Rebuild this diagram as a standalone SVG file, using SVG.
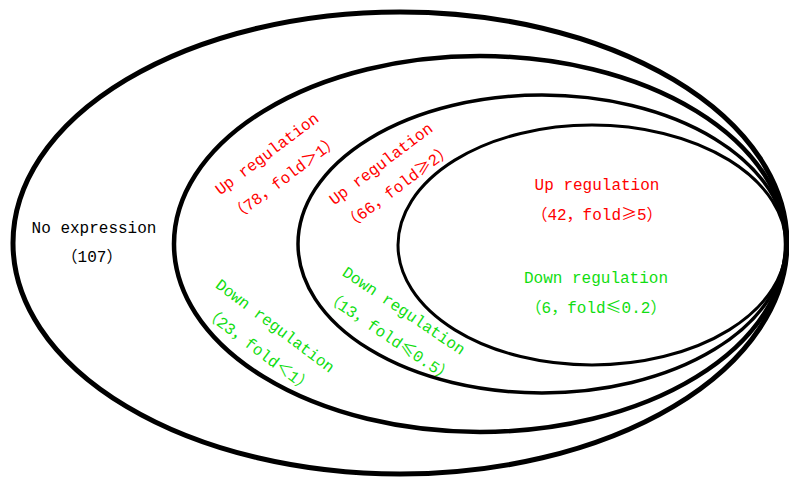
<svg xmlns="http://www.w3.org/2000/svg" width="789" height="478" viewBox="0 0 789 478">
<style>
.ring{fill:none;stroke:#000}
.t{font-family:"Liberation Mono","Noto Sans CJK SC",monospace;font-size:16px;text-anchor:middle}
.w{font-family:"Noto Sans CJK SC",sans-serif}
.k{fill:#000}
.r{fill:#ff0000}
.g{fill:#11dd11}
</style>
<rect width="789" height="478" fill="#fff"/>
<g id="ring-no-expression">
<ellipse class="ring" cx="400" cy="243" rx="387" ry="231" stroke-width="5"/>
<text class="t k" x="94" y="233">No expression</text>
<text class="t k" x="92" y="262">（107）</text>
</g>
<g id="ring-fold-1">
<ellipse class="ring" cx="480" cy="244" rx="306" ry="188" stroke-width="4.5"/>
<text class="t r" transform="translate(270,158) rotate(-37)">Up regulation</text>
<text class="t r" transform="translate(288,182) rotate(-37)">（78，fold＞1）</text>
<text class="t g" transform="translate(272,330) rotate(37)">Down regulation</text>
<text class="t g" transform="translate(255,354) rotate(37)">（23，fold＜1）</text>
</g>
<g id="ring-fold-2">
<ellipse class="ring" cx="542" cy="244" rx="244" ry="149" stroke-width="3.5"/>
<text class="t r" transform="translate(384,168) rotate(-37)">Up regulation</text>
<text class="t r" transform="translate(401,191) rotate(-37)">（66，fold<tspan class="w">≥</tspan>2）</text>
<text class="t g" transform="translate(401,315) rotate(34)">Down regulation</text>
<text class="t g" transform="translate(386,341) rotate(34)">（13，fold<tspan class="w">≤</tspan>0.5）</text>
</g>
<g id="ring-fold-5">
<ellipse class="ring" cx="592" cy="245" rx="194" ry="120" stroke-width="3"/>
<text class="t r" x="597" y="190">Up regulation</text>
<text class="t r" x="597" y="220">（42，fold<tspan class="w">≥</tspan>5）</text>
<text class="t g" x="596" y="283">Down regulation</text>
<text class="t g" x="596" y="313">（6，fold<tspan class="w">≤</tspan>0.2）</text>
</g>
</svg>
